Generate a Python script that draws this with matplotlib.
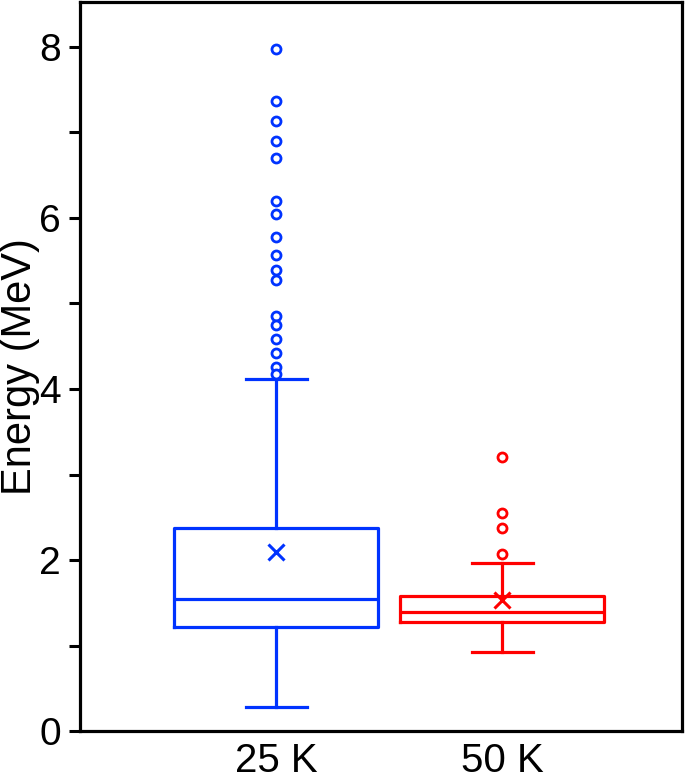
#!/usr/bin/env python3
import matplotlib
matplotlib.use("Agg")
import matplotlib.pyplot as plt
from matplotlib.ticker import MultipleLocator

# values (MeV)
labels = ["25 K", "50 K"]
colors = ["#0033FF", "#FF0000"]
whislo = [0.28, 0.93]
q1 = [1.22, 1.28]
med = [1.54, 1.39]
q3 = [2.37, 1.575]
whishi = [4.12, 1.97]
means = [2.10, 1.53]
fliers_25k = [7.98, 7.37, 7.13, 6.90, 6.70, 6.20, 6.05, 5.78, 5.57, 5.39,
              5.28, 4.85, 4.75, 4.59, 4.42, 4.26, 4.17]
fliers_50k = [3.20, 2.555, 2.38, 2.07]

plt.rcParams["font.family"] = ["Liberation Sans", "DejaVu Sans"]

fig = plt.figure(figsize=(6.85, 7.82), dpi=100)
ax = fig.add_axes([0.117, 0.065, 0.879, 0.932])

stats = []
for i, fl in enumerate([fliers_25k, fliers_50k]):
    stats.append(dict(label=labels[i], whislo=whislo[i], q1=q1[i], med=med[i],
                      q3=q3[i], whishi=whishi[i], mean=means[i], fliers=fl))

for i, st in enumerate(stats):
    c = colors[i]
    ax.bxp([st], positions=[i + 1], widths=0.905, showmeans=True,
           patch_artist=False,
           boxprops=dict(color=c, linewidth=2.3),
           medianprops=dict(color=c, linewidth=2.3),
           whiskerprops=dict(color=c, linewidth=2.3),
           capprops=dict(color=c, linewidth=2.3),
           capwidths=0.27,
           meanprops=dict(marker="x", markeredgecolor=c, markersize=11,
                          markeredgewidth=2.2, linestyle="none"),
           flierprops=dict(marker="o", markerfacecolor="white",
                           markeredgecolor=c, markersize=6.5,
                           markeredgewidth=2.0, linestyle="none"))

ax.set_xlim(0.133, 2.797)
ax.set_ylim(0, 8.52)
ax.set_xticks([1, 2])
ax.set_xticklabels(labels)
ax.yaxis.set_major_locator(MultipleLocator(2))
ax.yaxis.set_minor_locator(MultipleLocator(1))
ax.tick_params(axis="y", which="both", direction="out", length=8, width=2.2,
               labelsize=28, pad=6)
ax.tick_params(axis="x", length=0, labelsize=29, pad=8)
ax.set_ylabel("Energy (MeV)", fontsize=30)
ax.yaxis.set_label_coords(-0.066, 0.5)
for s in ax.spines.values():
    s.set_linewidth(2.3)

fig.savefig("out.png", dpi=100)
